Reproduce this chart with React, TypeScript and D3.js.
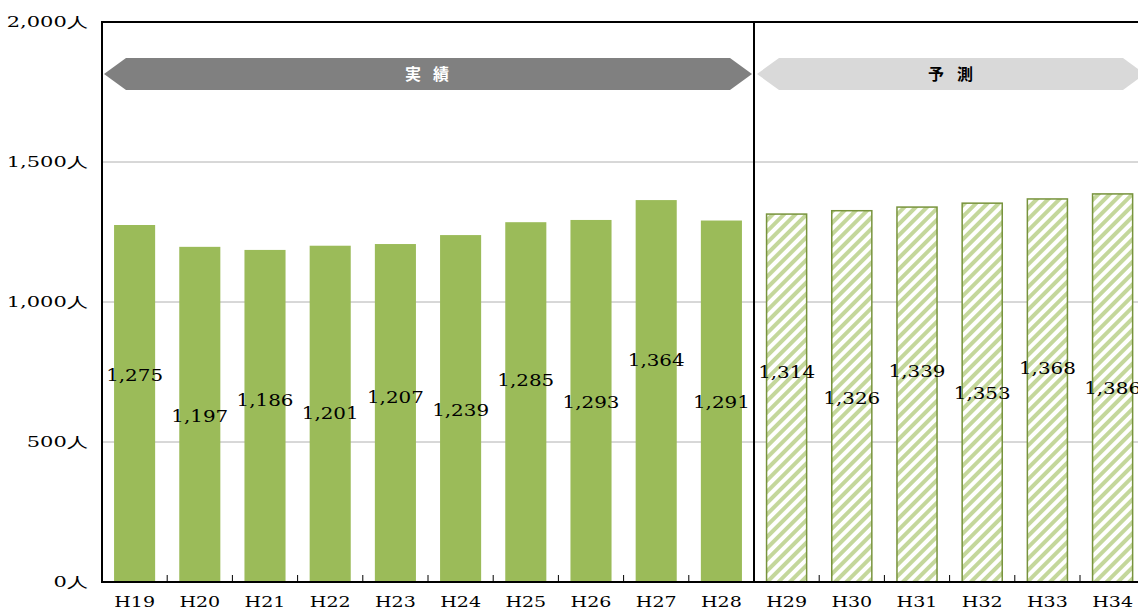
import React from "react";
import * as d3 from "d3";

const categories = ["H19","H20","H21","H22","H23","H24","H25","H26","H27","H28","H29","H30","H31","H32","H33","H34"];
const values = [1275,1197,1186,1201,1207,1239,1285,1293,1364,1291,1314,1326,1339,1353,1368,1386];
const forecast = [false,false,false,false,false,false,false,false,false,false,true,true,true,true,true,true];
// label anchor heights (in data units) as placed in the original
const labelPos = [740,593,650,603,660,613,722,643,793,643,750,657,753,675,765,693];
const yTicks = [0,500,1000,1500,2000];
const yTickLabels = ["0人","500人","1,000人","1,500人","2,000人"];
const bannerActual = ["実", "績"];
const bannerForecast = ["予", "測"];

export default function App() {
  const W = 1138, H = 610;
  const left = 102, top = 22, bottom = 582;
  const band = 65.2;
  const x = d3.scaleBand<string>().domain(categories).range([left, left + band * categories.length]).paddingInner(0.37).paddingOuter(0.185);
  const y = d3.scaleLinear().domain([0, 2000]).range([bottom, top]);
  const divX = left + band * 10;
  const font = "'DejaVu Serif', serif";
  const cjk = "'Noto Sans CJK JP', sans-serif";
  const c1 = (left + divX) / 2 - 1;
  const c2 = 950.5;
  return (
    <svg width={W} height={H} style={{ position: "absolute", left: 0, top: 0 }}>
      <defs>
        <pattern id="hatch" patternUnits="userSpaceOnUse" width="8" height="8" patternTransform="rotate(45)">
          <rect width="8" height="8" fill="#ffffff" />
          <rect width="4" height="8" fill="#c4d79b" />
        </pattern>
      </defs>
      <rect width={W} height={H} fill="#fff" />
      {yTicks.slice(1, 4).map(t => (
        <line key={t} x1={left} x2={W} y1={y(t)} y2={y(t)} stroke="#b0b0b0" strokeWidth={1} />
      ))}
      {/* banners */}
      <path d={`M${left + 2},74 L${left + 24},58 L${divX - 24},58 L${divX - 2},74 L${divX - 24},90 L${left + 24},90 Z`} fill="#808080" />
      {bannerActual.map((s, i) => (
        <text key={s} x={c1 + (i === 0 ? -14 : 14)} y={80} textAnchor="middle" fontFamily={cjk} fontWeight="bold" fontSize={16} fill="#fff">{s}</text>
      ))}
      <path d={`M${divX + 3},74 L${divX + 25},58 L${W - 15},58 L${W + 7},74 L${W - 15},90 L${divX + 25},90 Z`} fill="#d9d9d9" />
      {bannerForecast.map((s, i) => (
        <text key={s} x={c2 + (i === 0 ? -14.5 : 14.5)} y={80} textAnchor="middle" fontFamily={cjk} fontWeight="bold" fontSize={16} fill="#000">{s}</text>
      ))}
      {/* bars */}
      {categories.map((c, i) => (
        forecast[i] ? (
          <rect key={c} x={x(c)! + 0.5} y={y(values[i])} width={x.bandwidth() - 1} height={bottom - y(values[i])} fill="url(#hatch)" stroke="#77933c" strokeWidth={1.5} />
        ) : (
          <rect key={c} x={x(c)} y={y(values[i])} width={x.bandwidth()} height={bottom - y(values[i])} fill="#9bbb59" />
        )
      ))}
      {/* value labels */}
      {categories.map((c, i) => (
        <text key={c} transform={`translate(${x(c)! + x.bandwidth() / 2},${y(labelPos[i]) + 6}) scale(1.17,1)`} textAnchor="middle" fontFamily={font} fontSize={17} fill="#000">{d3.format(",")(values[i])}</text>
      ))}
      {/* frame */}
      <line x1={left} x2={W} y1={top} y2={top} stroke="#000" strokeWidth={2} />
      <line x1={left} x2={left} y1={top - 1} y2={bottom + 1} stroke="#000" strokeWidth={2} />
      <line x1={left} x2={W} y1={bottom} y2={bottom} stroke="#000" strokeWidth={2} />
      <line x1={divX} x2={divX} y1={top} y2={bottom} stroke="#000" strokeWidth={2} />
      {categories.slice(1).map((c, i) => (
        <line key={c} x1={left + band * (i + 1)} x2={left + band * (i + 1)} y1={bottom - 7} y2={bottom} stroke="#000" strokeWidth={1} />
      ))}
      {/* y axis labels */}
      {yTicks.map((t, i) => (
        <text key={t} transform={`translate(88,${y(t) + 5}) scale(1.5,1)`} textAnchor="end" fontFamily={font} fontSize={14} fill="#000">{yTickLabels[i]}</text>
      ))}
      {/* x axis labels */}
      {categories.map(c => (
        <text key={c} transform={`translate(${x(c)! + x.bandwidth() / 2},607) scale(1.27,1)`} textAnchor="middle" fontFamily={font} fontSize={15} fill="#000">{c}</text>
      ))}
    </svg>
  );
}
